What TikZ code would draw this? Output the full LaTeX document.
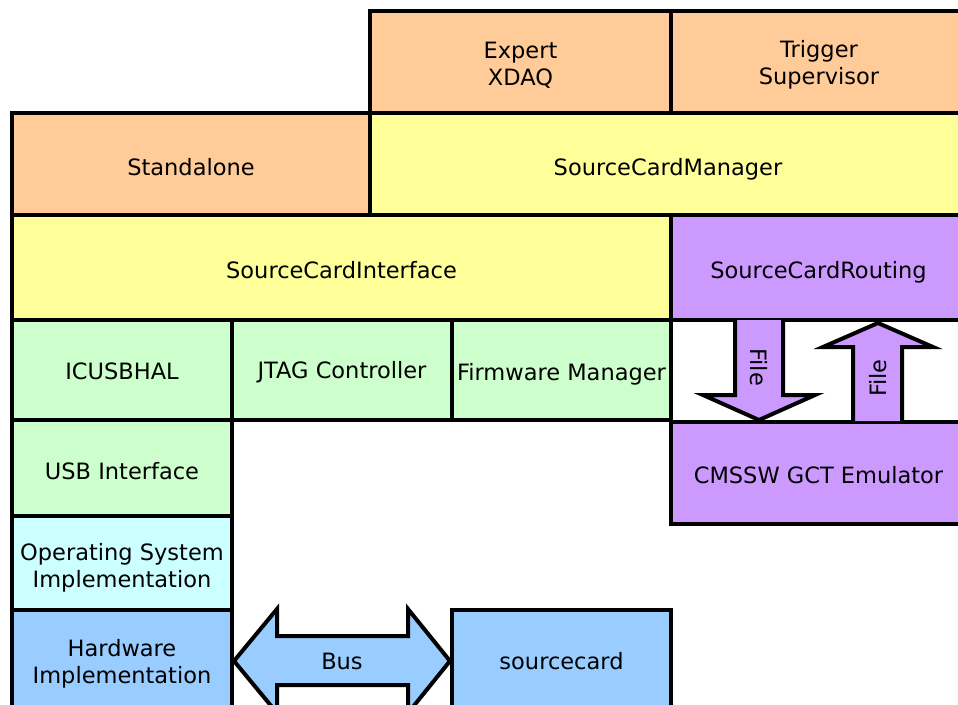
\documentclass[tikz,border=0pt]{standalone}
\usepackage{fontspec}
\setmainfont{DejaVu Sans}
\begin{document}
\begin{tikzpicture}[x=1pt,y=-1pt,
  blk/.style={draw=black,line width=4pt,inner sep=0pt},
  txt/.style={inner sep=0pt,align=center,font=\fontsize{22.5}{27}\selectfont},
  arr/.style={draw=black,line width=4pt,line join=miter},
  lbl/.style={font=\fontsize{22.5}{27}\selectfont,inner sep=0pt}]
\definecolor{cOr}{HTML}{FFCC99}
\definecolor{cYe}{HTML}{FFFF99}
\definecolor{cPu}{HTML}{CC99FF}
\definecolor{cGr}{HTML}{CCFFCC}
\definecolor{cCy}{HTML}{CCFFFF}
\definecolor{cBl}{HTML}{99CCFF}
\useasboundingbox (0,0) rectangle (958,704);
\clip (0,0) rectangle (958,704);
% row 1
\node[blk,fill=cOr,minimum width=301pt,minimum height=102pt] (xdaq) at (520.5,62) {};
\node[txt] (xdaqT) at ([yshift=-3pt]xdaq.center) {Expert\\XDAQ};
\node[blk,fill=cOr,minimum width=296pt,minimum height=102pt] (ts) at (819,62) {};
\node[txt] (tsT) at ([yshift=-3pt]ts.center) {Trigger\\Supervisor};
% row 2
\node[blk,fill=cOr,minimum width=358pt,minimum height=102pt] (sa) at (191,164) {};
\node[txt] (saT) at ([yshift=-3pt]sa.center) {Standalone};
\node[blk,fill=cYe,minimum width=596pt,minimum height=102pt] (scm) at (668,164) {};
\node[txt] (scmT) at ([yshift=-5pt]scm.center) {SourceCardManager};
% row 3
\node[blk,fill=cYe,minimum width=659pt,minimum height=105pt] (sci) at (341.5,267.5) {};
\node[txt] (sciT) at ([yshift=-3pt]sci.center) {SourceCardInterface};
\node[blk,fill=cPu,minimum width=295pt,minimum height=105pt] (scr) at (818.5,267.5) {};
\node[txt] (scrT) at ([yshift=-5pt]scr.center) {SourceCardRouting};
% row 4
\node[blk,fill=cGr,minimum width=220pt,minimum height=100pt] (hal) at (122,370) {};
\node[txt] (halT) at ([yshift=-1pt]hal.center) {ICUSBHAL};
\node[blk,fill=cGr,minimum width=220pt,minimum height=100pt] (jtag) at (342,370) {};
\node[txt] (jtagT) at ([yshift=-2pt]jtag.center) {JTAG Controller};
\node[blk,fill=cGr,minimum width=219pt,minimum height=100pt] (fw) at (561.5,370) {};
\node[txt] (fwT) at ([yshift=-4pt]fw.center) {Firmware Manager};
% emulator
\node[blk,fill=cPu,minimum width=295pt,minimum height=102pt] (emu) at (818.5,473) {};
\node[txt] (emuT) at ([yshift=-2pt]emu.center) {CMSSW GCT Emulator};
% left column
\node[blk,fill=cGr,minimum width=220pt,minimum height=96pt] (usb) at (122,468) {};
\node[txt] (usbT) at ([yshift=-3pt]usb.center) {USB Interface};
\node[blk,fill=cCy,minimum width=220pt,minimum height=94pt] (os) at (122,563) {};
\node[txt] (osT) at ([yshift=-5pt]os.center) {Operating System\\Implementation};
\node[blk,fill=cBl,minimum width=220pt,minimum height=104pt] (hw) at (122,662) {};
\node[txt] (hwT) at ([yshift=-2pt]hw.center) {Hardware\\Implementation};
\node[blk,fill=cBl,minimum width=219pt,minimum height=104pt] (sc) at (561.5,662) {};
\node[txt] (scT) at ([yshift=1pt]sc.center) {sourcecard};
% bus arrow
\draw[arr,fill=cBl] (hw.east |- 0,661) -- (277,609) -- (277,636) -- (408,636) -- (408,609)
  -- (sc.west |- 0,661) -- (408,713) -- (408,685) -- (277,685) -- (277,713) -- cycle;
\node[lbl] (bus) at (342,661) {Bus};
% file arrows
\draw[arr,fill=cPu] (735,320) -- (735,395) -- (703,395) -- (759,420) -- (815,395) -- (783,395) -- (783,320);
\node[lbl,rotate=-90] (f1) at (759,367) {File};
\draw[arr,fill=cPu] (853,421) -- (853,347) -- (823,347) -- (878,323) -- (933,347) -- (902,347) -- (902,421);
\node[lbl,rotate=90] (f2) at (878,378) {File};
\end{tikzpicture}
\end{document}
